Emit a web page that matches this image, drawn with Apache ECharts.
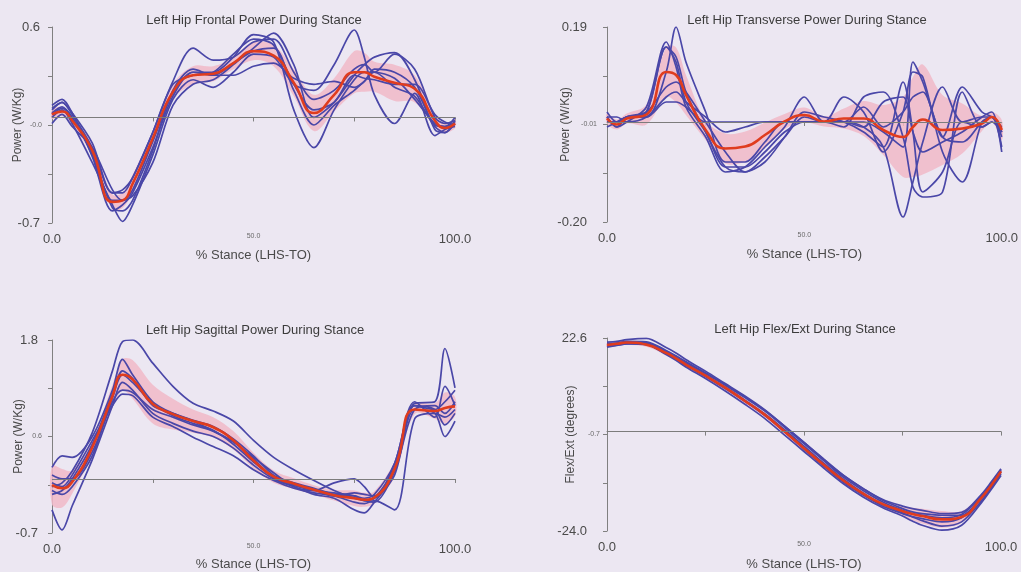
<!DOCTYPE html>
<html>
<head>
<meta charset="utf-8">
<script src="https://cdn.jsdelivr.net/npm/echarts@6/dist/echarts.min.js"></script>
<style>
  html, body { margin: 0; padding: 0; background: #ece7f2; }
  #chart { width: 1021px; height: 572px; }
</style>
</head>
<body>
<div id="chart"></div>
<script>
// % stance sample points shared by every curve
const STANCE = [0, 2.5, 5, 10, 15, 17.5, 20, 25, 30, 35, 40, 45, 50, 55, 60, 65, 70, 75, 77.5, 80, 85, 90, 95, 97.5, 100];
const X_TICK_LABELS = ['0.0', '', '50.0', '', '100.0'];

// ---- Left hip frontal power (W/Kg)
const FRONTAL_MEAN = [0.02, 0.04, -0.02, -0.22, -0.56, -0.55, -0.44, -0.14, 0.17, 0.28, 0.29, 0.36, 0.44, 0.41, 0.23, 0.03, 0.15, 0.30, 0.30, 0.27, 0.23, 0.19, -0.02, -0.07, -0.04];
const FRONTAL_SD = [0.03, 0.03, 0.03, 0.04, 0.05, 0.05, 0.06, 0.05, 0.05, 0.06, 0.05, 0.04, 0.06, 0.07, 0.09, 0.12, 0.11, 0.14, 0.13, 0.10, 0.12, 0.09, 0.04, 0.03, 0.03];
const FRONTAL_T1 = [0.05, 0.10, 0.02, -0.20, -0.50, -0.48, -0.40, -0.10, 0.24, 0.46, 0.38, 0.40, 0.50, 0.52, 0.30, 0.12, 0.18, 0.32, 0.35, 0.30, 0.42, 0.32, 0.00, -0.04, -0.02];
const FRONTAL_T2 = [0.08, 0.12, 0.03, -0.26, -0.62, -0.58, -0.50, -0.20, 0.14, 0.30, 0.30, 0.40, 0.55, 0.50, 0.05, -0.20, 0.05, 0.25, 0.30, 0.30, 0.20, 0.14, -0.06, -0.10, -0.04];
const FRONTAL_T3 = [0.00, 0.05, -0.04, -0.30, -0.58, -0.69, -0.58, -0.25, 0.12, 0.25, 0.20, 0.30, 0.42, 0.40, 0.22, 0.18, 0.35, 0.58, 0.40, 0.15, -0.04, 0.16, -0.12, -0.08, -0.06];
const FRONTAL_T4 = [-0.04, 0.02, -0.06, -0.20, -0.48, -0.55, -0.52, -0.30, 0.08, 0.22, 0.25, 0.35, 0.46, 0.56, 0.35, 0.00, 0.10, 0.28, 0.35, 0.40, 0.43, 0.25, -0.08, -0.10, -0.02];
const FRONTAL_T5 = [0.02, 0.06, 0.00, -0.25, -0.60, -0.62, -0.55, -0.22, 0.18, 0.32, 0.28, 0.28, 0.34, 0.36, 0.26, 0.22, 0.24, 0.20, 0.24, 0.32, 0.30, 0.20, -0.05, -0.06, 0.00];
const FRONTAL_T6 = [0.06, 0.10, 0.03, -0.17, -0.50, -0.50, -0.40, -0.10, 0.22, 0.28, 0.30, 0.42, 0.52, 0.48, 0.22, 0.05, 0.10, 0.28, 0.26, 0.25, 0.22, 0.22, 0.02, -0.03, -0.05];
const FRONTAL_T7 = [0.03, 0.07, 0.00, -0.24, -0.55, -0.55, -0.48, -0.16, 0.16, 0.30, 0.28, 0.36, 0.44, 0.46, 0.18, -0.05, 0.08, 0.18, 0.24, 0.30, 0.26, 0.12, -0.04, -0.06, -0.03];
const FRONTAL_Y_LABELS = ['-0.7', '', '-0.0', '', '0.6'];

// ---- Left hip transverse power (W/Kg)
const TRANSVERSE_MEAN = [0.007, -0.005, 0.007, 0.015, 0.100, 0.094, 0.054, -0.016, -0.053, -0.049, -0.026, 0.001, 0.014, 0.001, 0.007, 0.007, -0.016, -0.030, -0.010, 0.005, -0.016, -0.013, -0.003, 0.010, -0.016];
const TRANSVERSE_SD = [0.010, 0.010, 0.010, 0.020, 0.050, 0.055, 0.040, 0.020, 0.030, 0.030, 0.025, 0.015, 0.015, 0.010, 0.020, 0.035, 0.050, 0.080, 0.100, 0.110, 0.070, 0.050, 0.015, 0.010, 0.020];
const TRANSVERSE_T1 = [0.02, 0.00, 0.01, 0.02, 0.15, 0.13, 0.06, -0.02, -0.09, -0.10, -0.07, -0.03, 0.01, 0.00, 0.00, 0.00, -0.02, -0.05, 0.12, 0.08, -0.03, -0.04, 0.00, 0.01, -0.03];
const TRANSVERSE_T2 = [0.01, -0.01, 0.00, 0.03, 0.16, 0.11, 0.03, -0.03, -0.10, -0.09, -0.05, -0.01, 0.05, 0.00, 0.00, -0.01, -0.05, -0.19, -0.12, -0.04, 0.07, 0.00, 0.01, 0.01, -0.02];
const TRANSVERSE_T3 = [0.00, 0.00, 0.01, 0.01, 0.10, 0.19, 0.12, 0.02, -0.08, -0.08, -0.04, 0.00, 0.00, 0.00, 0.05, 0.02, -0.06, 0.02, 0.10, 0.09, -0.06, -0.12, 0.00, 0.01, -0.05];
const TRANSVERSE_T4 = [0.01, 0.01, 0.00, 0.01, 0.05, 0.06, 0.04, 0.01, -0.02, -0.01, 0.00, 0.00, 0.00, 0.00, -0.01, 0.05, 0.06, -0.03, -0.13, -0.15, -0.14, 0.06, -0.01, 0.00, -0.02];
const TRANSVERSE_T5 = [-0.01, 0.00, 0.01, 0.02, 0.15, 0.12, 0.04, -0.02, -0.09, -0.09, -0.06, -0.02, 0.00, 0.00, 0.00, 0.03, -0.01, 0.02, 0.05, 0.06, -0.03, 0.07, 0.02, 0.01, -0.01];
const TRANSVERSE_T6 = [0.00, 0.00, 0.01, 0.01, 0.04, 0.04, 0.03, 0.00, 0.00, 0.00, 0.00, 0.00, 0.00, 0.00, 0.00, -0.01, 0.04, 0.05, -0.02, -0.06, -0.04, -0.02, 0.01, 0.02, -0.06];
const TRANSVERSE_T7 = [0.01, -0.01, 0.01, 0.02, 0.07, 0.08, 0.06, 0.00, -0.06, -0.10, -0.08, -0.03, 0.02, 0.01, 0.00, -0.02, -0.05, 0.08, -0.02, -0.14, -0.10, 0.00, -0.01, 0.00, -0.02];
const TRANSVERSE_Y_LABELS = ['-0.20', '', '-0.01', '', '0.19'];

// ---- Left hip sagittal power (W/Kg)
const SAGITTAL_MEAN = [-0.08, -0.12, -0.04, 0.41, 1.07, 1.35, 1.29, 0.97, 0.84, 0.75, 0.67, 0.50, 0.24, 0.03, -0.06, -0.14, -0.21, -0.25, -0.27, -0.24, 0.13, 0.90, 0.88, 0.92, 0.94];
const SAGITTAL_SD = [0.25, 0.25, 0.15, 0.10, 0.15, 0.20, 0.25, 0.25, 0.20, 0.15, 0.13, 0.12, 0.10, 0.08, 0.07, 0.06, 0.07, 0.10, 0.09, 0.08, 0.10, 0.06, 0.10, 0.20, 0.12];
const SAGITTAL_T1 = [-0.10, -0.05, 0.10, 0.60, 1.40, 1.78, 1.80, 1.50, 1.20, 0.98, 0.88, 0.75, 0.50, 0.28, 0.12, -0.02, -0.15, -0.25, -0.28, -0.30, 0.10, 0.95, 0.90, 1.00, 1.15];
const SAGITTAL_T2 = [0.15, 0.30, 0.28, 0.55, 1.15, 1.55, 1.35, 1.00, 0.85, 0.75, 0.62, 0.48, 0.28, 0.08, -0.10, -0.15, -0.05, 0.00, -0.10, -0.25, 0.20, 0.98, 1.00, 1.69, 1.18];
const SAGITTAL_T3 = [-0.40, -0.66, -0.35, 0.25, 0.95, 1.25, 1.15, 0.85, 0.72, 0.62, 0.55, 0.40, 0.18, 0.00, -0.10, -0.20, -0.25, -0.40, -0.44, -0.30, 0.05, 0.90, 0.85, 0.55, 0.75];
const SAGITTAL_T4 = [-0.05, -0.10, 0.05, 0.50, 0.95, 1.10, 1.08, 0.80, 0.68, 0.54, 0.42, 0.30, 0.12, -0.02, -0.12, -0.18, -0.22, -0.30, -0.32, -0.28, -0.40, 0.78, 0.85, 0.80, 0.90];
const SAGITTAL_T5 = [-0.20, -0.15, 0.00, 0.45, 1.10, 1.40, 1.30, 0.95, 0.85, 0.76, 0.68, 0.52, 0.30, 0.05, -0.05, -0.12, -0.20, -0.22, -0.25, -0.20, 0.20, 1.00, 0.80, 1.20, 0.95];
const SAGITTAL_T6 = [0.05, 0.00, 0.00, 0.35, 1.00, 1.15, 1.12, 0.90, 0.80, 0.70, 0.62, 0.48, 0.26, 0.02, -0.08, -0.15, -0.18, -0.22, -0.28, -0.25, 0.15, 0.95, 0.90, 0.70, 0.85];
const SAGITTAL_T7 = [-0.15, -0.20, -0.10, 0.30, 1.05, 1.35, 1.25, 0.98, 0.82, 0.72, 0.63, 0.45, 0.22, 0.02, -0.08, -0.14, -0.22, -0.18, -0.20, -0.22, 0.10, 0.90, 0.95, 0.85, 1.00];
const SAGITTAL_Y_LABELS = ['-0.7', '', '0.6', '', '1.8'];

// ---- Left hip flexion / extension angle (degrees)
const FLEXEXT_MEAN = [20.9, 21.2, 21.5, 21.0, 19.0, 17.7, 16.2, 13.5, 10.6, 7.4, 4.1, 0.1, -4.0, -8.0, -11.8, -15.0, -17.5, -19.2, -19.9, -20.4, -21.2, -20.6, -16.0, -13.0, -9.6];
const FLEXEXT_SD = [0.5, 0.5, 0.5, 0.5, 0.6, 0.6, 0.6, 0.6, 0.6, 0.6, 0.6, 0.6, 0.7, 0.7, 0.7, 0.8, 0.9, 1.1, 1.5, 1.8, 2.0, 1.4, 0.7, 0.6, 0.5];
const FLEXEXT_T1 = [21.6, 21.8, 22.2, 22.5, 20.3, 19.0, 17.4, 14.6, 11.6, 8.6, 5.3, 1.4, -2.6, -6.8, -10.6, -13.8, -16.4, -18.0, -18.6, -19.0, -19.8, -19.5, -15.2, -12.2, -9.0];
const FLEXEXT_T2 = [20.4, 20.8, 21.2, 21.3, 19.1, 17.8, 16.4, 13.6, 10.7, 7.6, 4.3, 0.5, -3.5, -7.6, -11.5, -14.8, -17.6, -19.6, -20.6, -21.5, -22.8, -21.8, -16.8, -13.6, -10.2];
const FLEXEXT_T3 = [20.8, 21.1, 21.5, 21.2, 18.6, 17.2, 15.6, 12.8, 9.8, 6.6, 3.2, -0.8, -4.8, -8.8, -12.6, -15.8, -18.4, -20.4, -21.6, -22.6, -23.8, -22.6, -17.2, -14.0, -10.6];
const FLEXEXT_T4 = [21.0, 21.3, 21.6, 21.5, 19.4, 18.1, 16.7, 14.0, 11.2, 8.2, 5.0, 1.1, -2.9, -7.0, -11.0, -14.2, -17.0, -19.0, -19.8, -20.2, -20.8, -20.0, -15.6, -12.5, -9.2];
const FLEXEXT_T5 = [20.6, 20.9, 21.2, 21.0, 18.8, 17.5, 16.0, 13.3, 10.4, 7.3, 3.9, 0.0, -4.2, -8.3, -12.2, -15.3, -18.0, -19.8, -20.5, -21.0, -21.8, -20.8, -16.2, -13.2, -9.8];
const FLEXEXT_T6 = [21.2, 21.4, 21.8, 21.7, 19.6, 18.3, 16.9, 14.2, 11.4, 8.4, 5.2, 1.4, -2.6, -6.6, -10.5, -13.7, -16.6, -18.6, -19.4, -19.8, -20.2, -20.2, -16.0, -12.8, -9.5];
const FLEXEXT_Y_LABELS = ['-24.0', '', '-0.7', '', '22.6'];

const X_NAME = '% Stance (LHS-TO)';
const FONT = '"Liberation Sans", Arial, sans-serif';
const TRIAL_COLOR = '#4a47a8';
const MEAN_COLOR = '#e03c1e';
const BAND_COLOR = '#f1b9c8';
const AXIS_COLOR = '#808080';
const TEXT_COLOR = '#4a4a4a';

const panels = [
  {
    title: 'Left Hip Frontal Power During Stance', yName: 'Power (W/Kg)',
    min: -0.7, max: 0.6, yLabels: FRONTAL_Y_LABELS,
    mean: FRONTAL_MEAN, sd: FRONTAL_SD,
    trials: [FRONTAL_T1, FRONTAL_T2, FRONTAL_T3, FRONTAL_T4, FRONTAL_T5, FRONTAL_T6, FRONTAL_T7],
    grid: { left: 52, top: 27, width: 403, height: 196 }, titleX: 254, titleY: 14,
    yNameGap: 28, xNameGap: 26, labelMargin: 10, endPad: 2
  },
  {
    title: 'Left Hip Transverse Power During Stance', yName: 'Power (W/Kg)',
    min: -0.20, max: 0.19, yLabels: TRANSVERSE_Y_LABELS,
    mean: TRANSVERSE_MEAN, sd: TRANSVERSE_SD,
    trials: [TRANSVERSE_T1, TRANSVERSE_T2, TRANSVERSE_T3, TRANSVERSE_T4, TRANSVERSE_T5, TRANSVERSE_T6, TRANSVERSE_T7],
    grid: { left: 607, top: 27, width: 396, height: 195 }, titleX: 807, titleY: 14,
    yNameGap: 35, xNameGap: 26, labelMargin: 10, endPad: 10
  },
  {
    title: 'Left Hip Sagittal Power During Stance', yName: 'Power (W/Kg)',
    min: -0.7, max: 1.8, yLabels: SAGITTAL_Y_LABELS,
    mean: SAGITTAL_MEAN, sd: SAGITTAL_SD,
    trials: [SAGITTAL_T1, SAGITTAL_T2, SAGITTAL_T3, SAGITTAL_T4, SAGITTAL_T5, SAGITTAL_T6, SAGITTAL_T7],
    grid: { left: 52, top: 340, width: 403, height: 195 }, titleX: 255, titleY: 324,
    yNameGap: 27, xNameGap: 25, labelMargin: 10, endPad: 4
  },
  {
    title: 'Left Hip Flex/Ext During Stance', yName: 'Flex/Ext (degrees)',
    min: -24.0, max: 22.6, yLabels: FLEXEXT_Y_LABELS,
    mean: FLEXEXT_MEAN, sd: FLEXEXT_SD,
    trials: [FLEXEXT_T1, FLEXEXT_T2, FLEXEXT_T3, FLEXEXT_T4, FLEXEXT_T5, FLEXEXT_T6],
    grid: { left: 607, top: 338, width: 394, height: 195 }, titleX: 805, titleY: 323,
    yNameGap: 30, xNameGap: 27, labelMargin: 7, endPad: 13
  }
];

const pairs = vals => STANCE.map((x, k) => [x, vals[k]]);

const option = {
  backgroundColor: '#ece7f2',
  animation: false,
  title: [], grid: [], xAxis: [], yAxis: [], series: []
};

panels.forEach((p, i) => {
  const interval = (p.max - p.min) / 4;
  const rich = {
    s: { fontSize: 7, color: '#6a6a6a', fontFamily: FONT },
    b: { fontSize: 13, color: TEXT_COLOR, fontFamily: FONT, padding: [0, p.endPad, 0, 0] }
  };
  option.title.push({
    text: p.title, left: p.titleX, top: p.titleY, textAlign: 'center', padding: 0,
    textStyle: { fontSize: 13, fontWeight: 'normal', color: '#3c3c3c', fontFamily: FONT }
  });
  option.grid.push(Object.assign({ containLabel: false }, p.grid));
  option.xAxis.push({
    type: 'value', gridIndex: i, min: 0, max: 100, interval: 25,
    name: X_NAME, nameLocation: 'middle', nameGap: p.xNameGap, nameMoveOverlap: false,
    nameTextStyle: { fontSize: 13, color: TEXT_COLOR, fontFamily: FONT },
    axisLine: { show: true, lineStyle: { color: AXIS_COLOR, width: 1 } },
    axisTick: { show: true, length: 4, lineStyle: { color: AXIS_COLOR } },
    splitLine: { show: false },
    axisLabel: {
      margin: 10, fontSize: 13, color: TEXT_COLOR, fontFamily: FONT, rich: rich,
      showMinLabel: true, showMaxLabel: true, hideOverlap: false,
      formatter: v => {
        const t = X_TICK_LABELS[Math.round(v / 25)] || '';
        return (v === 50 && t) ? '{s|' + t + '}' : t;
      }
    }
  });
  option.yAxis.push({
    type: 'value', gridIndex: i, min: p.min, max: p.max, interval: interval,
    name: p.yName, nameLocation: 'middle', nameGap: p.yNameGap, nameMoveOverlap: false,
    nameTextStyle: { fontSize: 12, color: TEXT_COLOR, fontFamily: FONT },
    axisLine: { show: true, lineStyle: { color: AXIS_COLOR, width: 1 } },
    axisTick: { show: true, length: 4, lineStyle: { color: AXIS_COLOR } },
    splitLine: { show: false },
    axisLabel: {
      margin: p.labelMargin, fontSize: 13, color: TEXT_COLOR, fontFamily: FONT, rich: rich,
      showMinLabel: true, showMaxLabel: true, hideOverlap: false,
      formatter: v => {
        const k = Math.round((v - p.min) / interval);
        const t = p.yLabels[k] || '';
        if (!t) return '';
        return k === 2 ? '{s|' + t + '}' : '{b|' + t + '}';
      }
    }
  });

  // ±SD band drawn as one closed shape from mean and sd
  const upper = p.mean.map((m, k) => m + p.sd[k]);
  const lower = p.mean.map((m, k) => m - p.sd[k]);
  option.series.push({
    type: 'custom', xAxisIndex: i, yAxisIndex: i, silent: true, z: 1,
    data: STANCE.map((x, k) => [x, lower[k], upper[k]]),
    encode: { x: 0, y: [1, 2] },
    renderItem: (params, api) => {
      if (params.dataIndex !== 0) return null;
      const top = STANCE.map((x, k) => api.coord([x, upper[k]]));
      const bottom = STANCE.map((x, k) => api.coord([x, lower[k]])).reverse();
      return {
        type: 'polygon',
        shape: { points: top.concat(bottom), smooth: 0.35 },
        style: { fill: BAND_COLOR, opacity: 0.85 }
      };
    },
    markLine: {
      silent: true, symbol: 'none', label: { show: false },
      lineStyle: { color: '#7c7c7c', width: 1, type: 'solid' },
      data: [{ yAxis: 0 }]
    }
  });

  // individual trials
  p.trials.forEach(t => {
    option.series.push({
      type: 'line', xAxisIndex: i, yAxisIndex: i, data: pairs(t),
      smooth: 0.3, symbol: 'none', silent: true,
      lineStyle: { color: TRIAL_COLOR, width: 1.7 }, z: 3
    });
  });

  // mean curve
  option.series.push({
    type: 'line', xAxisIndex: i, yAxisIndex: i, data: pairs(p.mean),
    smooth: 0.5, symbol: 'none', silent: true,
    lineStyle: { color: MEAN_COLOR, width: 2.6 }, z: 4
  });
});

const chart = echarts.init(document.getElementById('chart'), null, { renderer: 'canvas' });
chart.setOption(option);
</script>
</body>
</html>
